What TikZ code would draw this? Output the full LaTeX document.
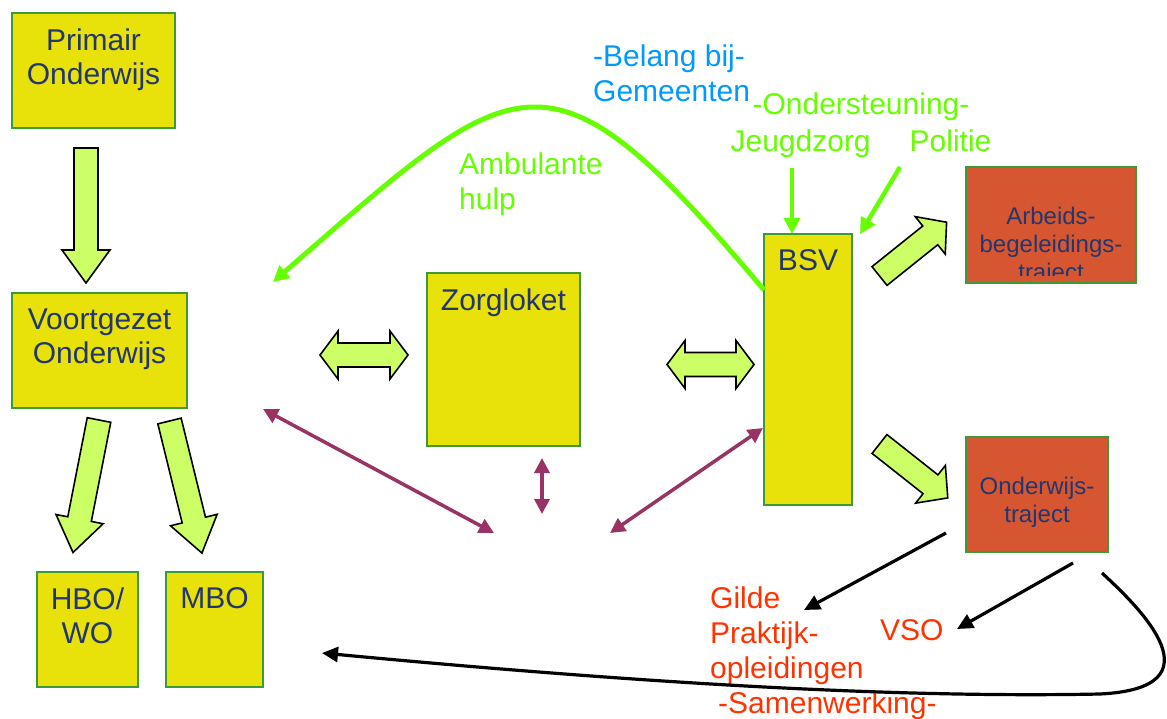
\documentclass[tikz,border=0pt]{standalone}
\usepackage{fontspec}
\setmainfont{Liberation Sans}
\usetikzlibrary{positioning,arrows.meta}
\definecolor{boxyellow}{RGB}{233,225,10}
\definecolor{boxgreen}{RGB}{60,155,55}
\definecolor{boxorange}{RGB}{213,86,48}
\definecolor{textnavy}{RGB}{35,55,110}
\definecolor{arrowlime}{RGB}{204,255,102}
\definecolor{brightgreen}{RGB}{102,255,0}
\definecolor{skyblue}{RGB}{0,153,255}
\definecolor{redorange}{RGB}{255,51,0}
\definecolor{plum}{RGB}{153,51,102}

\newcommand{\fatarrow}[4]{%
 \draw[fatshape,shift={#1},rotate=#2] (0,-12) -- ({#3-#4},-12) -- ({#3-#4},-24) -- (#3,0)
   -- ({#3-#4},24) -- ({#3-#4},12) -- (0,12) -- cycle;}
\newcommand{\fatdouble}[3]{%
 \draw[fatshape,shift={#1}] ({-#2/2},0) -- ({-#2/2+#3},-24) -- ({-#2/2+#3},-12) -- ({#2/2-#3},-12)
   -- ({#2/2-#3},-24) -- ({#2/2},0) -- ({#2/2-#3},24) -- ({#2/2-#3},12) -- ({-#2/2+#3},12)
   -- ({-#2/2+#3},24) -- cycle;}

\begin{document}
\begin{tikzpicture}[x=1pt,y=-1pt,
  ybox/.style={draw=boxgreen,line width=2pt,fill=boxyellow,inner sep=0pt,outer sep=0pt},
  obox/.style={ybox,fill=boxorange},
  boxtext/.style={text=textnavy,font=\fontsize{30}{34}\selectfont,align=center,inner sep=0pt},
  smalltext/.style={boxtext,font=\fontsize{24}{28}\selectfont},
  note/.style={font=\fontsize{30}{35}\selectfont,align=left,inner sep=0pt,anchor=north west},
  fatshape/.style={draw=black,line width=1.6pt,fill=arrowlime},
  purplelink/.style={draw=plum,line width=3.5pt,{Triangle[length=15pt,width=15pt]}-{Triangle[length=15pt,width=15pt]}},
  greenlink/.style={draw=brightgreen,line width=4.5pt,-{Triangle[length=16pt,width=16pt]}},
  blacklink/.style={draw=black,line width=3.2pt,-{Triangle[length=16pt,width=15pt]}}]
 \useasboundingbox[fill=white] (0,0) rectangle (1167,718);

 % yellow boxes
 \node[ybox,minimum width=163pt,minimum height=115pt] (primair) at (93.5,70.5) {};
 \node[boxtext,below=15.5pt of primair.north] {Primair\\Onderwijs};
 \node[ybox,minimum width=175pt,minimum height=115pt] (voortgezet) at (99.5,350.5) {};
 \node[boxtext,below=15.5pt of voortgezet.north] {Voortgezet\\Onderwijs};
 \node[ybox,minimum width=101pt,minimum height=115pt] (hbo) at (87.5,629.5) {};
 \node[boxtext,below=15.5pt of hbo.north] {HBO/\\WO};
 \node[ybox,minimum width=97pt,minimum height=115pt] (mbo) at (214.5,629.5) {};
 \node[boxtext,below=15.5pt of mbo.north] {MBO};
 \node[ybox,minimum width=153pt,minimum height=173pt] (zorgloket) at (503.5,359.5) {};
 \node[boxtext,below=15.5pt of zorgloket.north] {Zorgloket};
 \node[ybox,minimum width=88pt,minimum height=271pt] (bsv) at (808,369.5) {};
 \node[boxtext,below=15.5pt of bsv.north] {BSV};

 % trajecten
 \node[obox,minimum width=170pt,minimum height=116pt] (arbeids) at (1051,225) {};
 \begin{scope}
  \clip (arbeids.north west) rectangle ([yshift=8pt]arbeids.south east);
  \node[smalltext,below=40pt of arbeids.north] {Arbeids-\\begeleidings-\\traject};
 \end{scope}
 \node[obox,minimum width=142pt,minimum height=115pt] (otraject) at (1037,494.5) {};
 \node[smalltext,below=40pt of otraject.north] {Onderwijs-\\traject};

 % block arrows
 \fatarrow{(86,148)}{-90}{135}{33}
 \fatarrow{(99,420)}{-101.1}{135}{34}
 \fatarrow{(169.5,421)}{-76.2}{136}{34}
 \fatarrow{(879.5,276)}{38.7}{86}{21}
 \fatarrow{(879.5,444)}{-38.3}{87}{22}
 \fatdouble{(364,355)}{88}{18}
 \fatdouble{(710.5,364.5)}{87}{18}

 % texts
 \node[note,text=skyblue] (belang) at (593,44.5) {-Belang bij-\\Gemeenten};
 \node[note,text=brightgreen,align=center,anchor=north,font=\fontsize{30}{37}\selectfont] (steun)
   at (861,92.5) {-Ondersteuning-\\Jeugdzorg\hspace{39pt}Politie};
 \node[note,text=brightgreen] (ambulant) at (459,152.5) {Ambulante\\hulp};
 \node[note,text=redorange] (gilde) at (710,586.5) {Gilde\\Praktijk-\\opleidingen\\\hspace*{8pt}-Samenwerking-};
 \node[note,text=redorange] (vso) at (880,619.5) {VSO};

 % green connectors
 \coordinate (jz) at (792,168);
 \coordinate (pol) at (900,167);
 \coordinate (ambend) at (273,282);
 \draw[greenlink] (jz) -- ([xshift=-16pt]bsv.north);
 \draw[greenlink] (pol) -- ([xshift=52pt]bsv.north);
 \draw[greenlink,line width=5pt] ([yshift=-56pt]bsv.north west) .. controls (547,32) and (521,66) .. (ambend);

 % purple connectors
 \coordinate (vo-link) at (263,409);
 \coordinate (hub-l) at (494,533);
 \coordinate (zl-top) at (542,458);
 \coordinate (zl-bot) at (542,514);
 \coordinate (hub-r) at (610,533);
 \coordinate (bsv-link) at (763,428);
 \draw[purplelink] (vo-link) -- (hub-l);
 \draw[purplelink] (zl-top) -- (zl-bot);
 \draw[purplelink] (hub-r) -- (bsv-link);

 % black connectors
 \coordinate (ot-a) at (946,533);
 \coordinate (gilde-tip) at (804,610);
 \coordinate (ot-b) at (1073,563);
 \coordinate (vso-tip) at (957,629);
 \coordinate (ot-c) at (1102,573);
 \coordinate (mbo-tip) at (322,653);
 \draw[blacklink] (ot-a) -- (gilde-tip);
 \draw[blacklink] (ot-b) -- (vso-tip);
 \draw[blacklink] (ot-c) .. controls (1140,608) and (1222,688) .. (1100,694)
   .. controls (900,698) and (650,684) .. (mbo-tip);
\end{tikzpicture}
\end{document}
